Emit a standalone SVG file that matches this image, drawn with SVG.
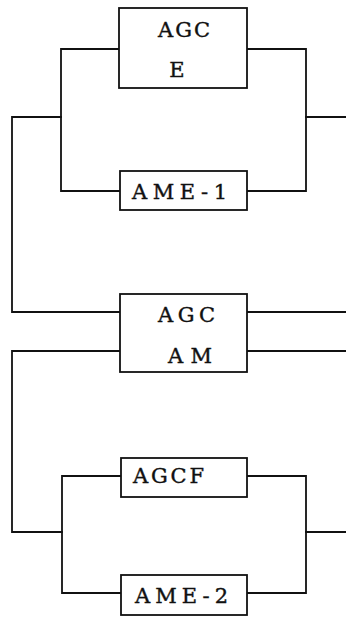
<svg xmlns="http://www.w3.org/2000/svg" width="346" height="617" viewBox="0 0 346 617">
<style>
.box{fill:#fff;stroke:#111;stroke-width:1.8}
.w{fill:none;stroke:#111;stroke-width:1.8;stroke-linecap:square}
text{font-family:"DejaVu Serif","Liberation Serif",serif;font-size:21px;fill:#111;stroke:#111;stroke-width:0.4}
</style>
<rect width="346" height="617" fill="#fff"/>
<g id="connectors">
<polyline class="w" points="120,49 61,49 61,191 120,191"/>
<polyline class="w" points="247,49 306,49 306,191 247,191"/>
<polyline class="w" points="61,117 12,117 12,312 120,312"/>
<line class="w" x1="306" y1="117" x2="346" y2="117"/>
<line class="w" x1="247" y1="312" x2="346" y2="312"/>
<line class="w" x1="247" y1="351" x2="346" y2="351"/>
<polyline class="w" points="120,351 12,351 12,532 62,532"/>
<polyline class="w" points="121,476 62,476 62,593 121,593"/>
<polyline class="w" points="247,476 306,476 306,593 247,593"/>
<line class="w" x1="306" y1="532" x2="346" y2="532"/>
</g>
<g id="agc-e">
<rect class="box" x="119" y="8" width="128" height="80"/>
<text x="158" y="37" textLength="52" lengthAdjust="spacing">AGC</text>
<text x="177" y="77" text-anchor="middle">E</text>
</g>
<g id="ame-1">
<rect class="box" x="120" y="171" width="127" height="39"/>
<text x="132" y="199" textLength="95" lengthAdjust="spacing">AME-1</text>
</g>
<g id="agc-am">
<rect class="box" x="120" y="294" width="127" height="78"/>
<text x="158" y="322" textLength="57" lengthAdjust="spacing">AGC</text>
<text x="168" y="363" textLength="44" lengthAdjust="spacing">AM</text>
</g>
<g id="agcf">
<rect class="box" x="121" y="458" width="126" height="39"/>
<text x="133" y="483" textLength="71" lengthAdjust="spacing">AGCF</text>
</g>
<g id="ame-2">
<rect class="box" x="121" y="575" width="126" height="40"/>
<text x="135" y="603" textLength="93" lengthAdjust="spacing">AME-2</text>
</g>
</svg>
